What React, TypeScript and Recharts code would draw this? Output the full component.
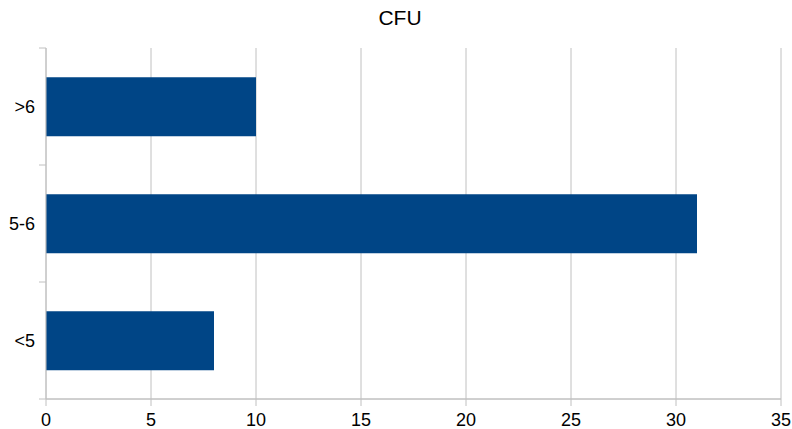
import React from "react";
import { BarChart, Bar, XAxis, YAxis, CartesianGrid, ReferenceLine } from "recharts";

const categories = ["<5", "5-6", ">6"];
const cfuValues = [8, 31, 10];
const xTicks = [0, 5, 10, 15, 20, 25, 30, 35];
const boundaryTicks = [0, 1, 2, 3];

const data = categories.map((name, i) => ({ name, value: cfuValues[i], pos: i + 0.5 }));

const GRID = "#c0c0c0";
const FONT = "'Liberation Sans', Arial, sans-serif";

export default function App() {
  return (
    <div style={{ position: "absolute", left: 0, top: 0, width: 792, height: 429, background: "#fff", fontFamily: FONT }}>
      <div style={{ position: "absolute", top: 6, left: 0, width: 800, textAlign: "center", fontSize: 21, color: "#000" }}>
        CFU
      </div>
      <BarChart
        width={792}
        height={429}
        data={data}
        layout="vertical"
        barCategoryGap="25%"
        margin={{ top: 48, right: 11, bottom: 0, left: 0 }}
      >
        <CartesianGrid horizontal={false} stroke={GRID} strokeWidth={1} />
        <XAxis
          type="number"
          domain={[0, 35]}
          ticks={xTicks}
          interval={0}
          height={30}
          stroke={GRID}
          tickSize={7}
          tickMargin={7}
          tick={{ fontSize: 18, fill: "#000", fontFamily: FONT }}
        />
        {/* boundary ticks between categories, as in the original */}
        <YAxis
          yAxisId="a"
          type="number"
          dataKey="pos"
          domain={[0, 3]}
          ticks={boundaryTicks}
          interval={0}
          width={1}
          stroke={GRID}
          tickSize={7}
          tick={{ fill: "none", fontSize: 1 }}
        />
        <YAxis
          yAxisId="b"
          type="category"
          dataKey="name"
          reversed
          width={45}
          axisLine={false}
          tickLine={false}
          tickMargin={4}
          tick={{ fontSize: 18, fill: "#000", fontFamily: FONT }}
        />
        <ReferenceLine yAxisId="a" y={3} stroke={GRID} ifOverflow="visible" />
        <Bar yAxisId="b" dataKey="value" fill="#004586" isAnimationActive={false} />
      </BarChart>
    </div>
  );
}
